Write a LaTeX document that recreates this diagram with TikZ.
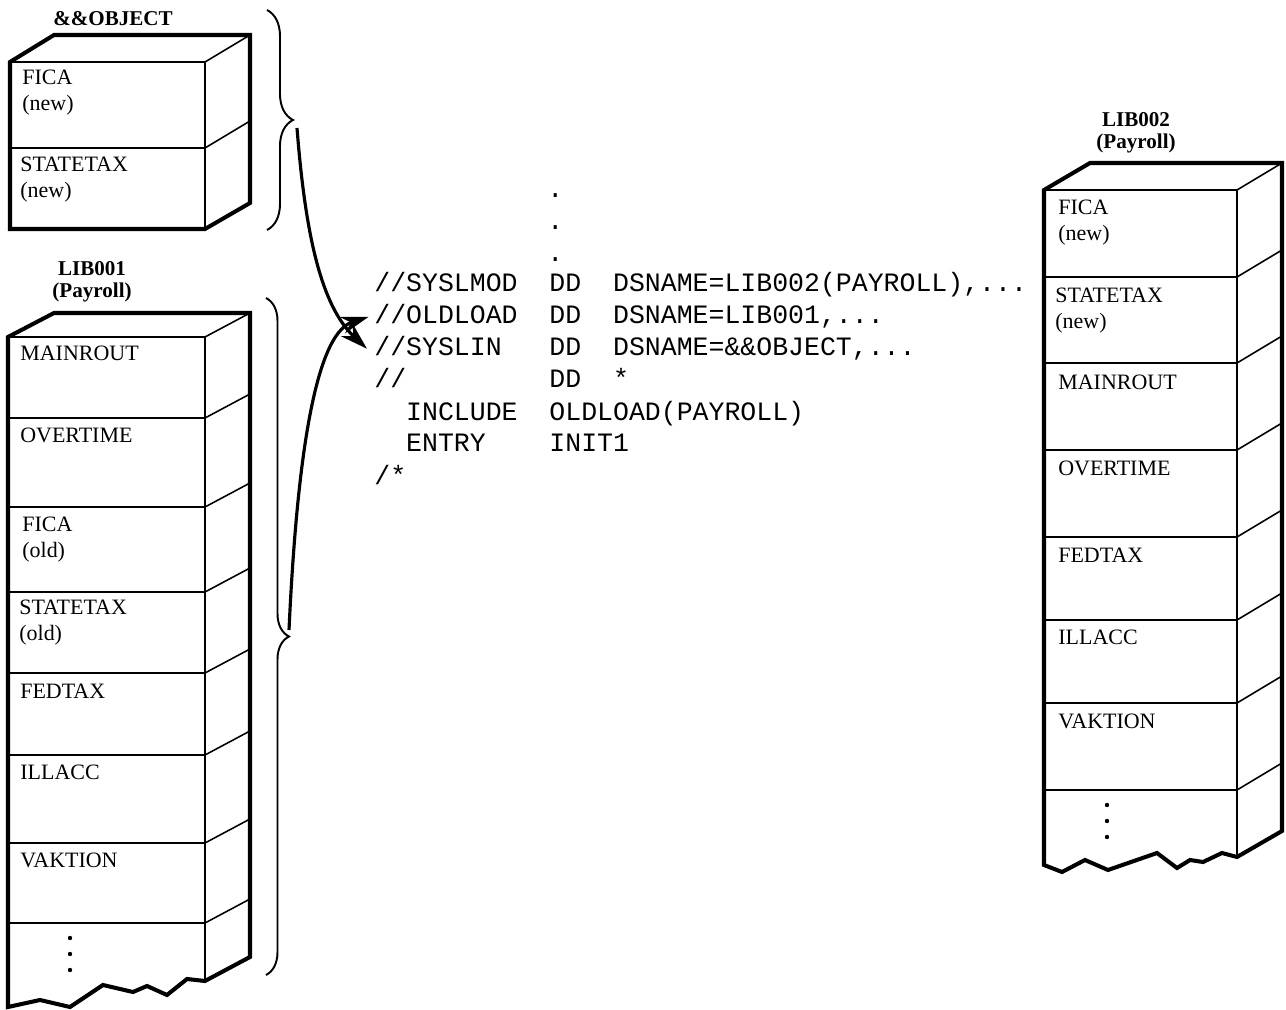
\documentclass[tikz,border=0pt]{standalone}
\usepackage{fontspec}
\setmainfont{Liberation Serif}
\setmonofont{Liberation Mono}
\usetikzlibrary{arrows.meta,decorations.pathreplacing}

\tikzset{
  silhouette/.style={line width=2.3pt, line join=miter},
  seam/.style={line width=0.9pt},
  module/.style={anchor=north west, inner sep=0pt, align=left, font=\fontsize{12.5}{14.6}\selectfont},
  libname/.style={anchor=south, inner sep=0pt, align=center, font=\bfseries\fontsize{12}{12.5}\selectfont},
  jcl/.style={anchor=base west, inner sep=0pt, font=\ttfamily\fontsize{15.1}{18}\selectfont},
  grouping/.style={decorate, line width=1.1pt},
  flow/.style={line width=1.8pt, -{Stealth[length=5.5mm,width=3.4mm]}},
}

\begin{document}
\begin{tikzpicture}[x=0.02cm, y=-0.02cm]
        \useasboundingbox (0,0) rectangle (1286,1010);

        % &&OBJECT (temporary data set)
        \node[libname, anchor=base] (objname) at (113,26) {\&\&OBJECT};
        \draw[silhouette] (10,62) -- (54,35) -- (250,35) -- (250,203) -- (205,229) -- (10,229) -- cycle;
        \draw[seam] (10,62) -- (205,62) -- (250,35) (205,62) -- (205,229);
        \draw[seam] (10,148) -- (205,148) -- (250,121);
        \node[module] (objfica) at (22,70) {FICA\\(new)};
        \node[module] (objstate) at (20,157) {STATETAX\\(new)};

        % LIB001 (old library)
        \node[libname] (oldname) at (92,302) {LIB001\\(Payroll)};
        \draw[silhouette] (8,1007) -- (8,337) -- (54,313) -- (250,313) -- (250,957) -- (205,981)
            -- (187,979) -- (167,995) -- (147,986) -- (133,992) -- (103,985) -- (70,1007) -- (40,1000) -- cycle;
        \draw[seam] (8,337) -- (205,337) -- (250,313) (205,337) -- (205,981);
        \foreach \y in {418,507,592,673,755,843,923}
            \draw[seam] (8,\y) -- (205,\y) -- (250,\y-24);
        \node[module] (oldmain) at (20,346) {MAINROUT};
        \node[module] (oldover) at (20,428) {OVERTIME};
        \node[module] (oldfica) at (22,517) {FICA\\(old)};
        \node[module] (oldstate) at (19,600) {STATETAX\\(old)};
        \node[module] (oldfed) at (20,684) {FEDTAX};
        \node[module] (oldill) at (20,765) {ILLACC};
        \node[module] (oldvak) at (20,853) {VAKTION};
        \foreach \y in {938,954,970}
            \fill (70,\y) circle (2.2);

        % LIB002 (new library)
        \node[libname] (newname) at (1136,153) {LIB002\\(Payroll)};
        \draw[silhouette] (1044,865) -- (1044,190) -- (1090,163) -- (1282,163) -- (1282,831) -- (1237,857)
            -- (1222,853) -- (1203,862) -- (1190,860) -- (1177,868) -- (1157,853) -- (1108,870)
            -- (1085,860) -- (1062,872) -- cycle;
        \draw[seam] (1044,190) -- (1237,190) -- (1282,163) (1237,190) -- (1237,857);
        \foreach \y in {277,363,450,537,620,703,790}
            \draw[seam] (1044,\y) -- (1237,\y) -- (1282,\y-27);
        \node[module] (newfica) at (1058,200) {FICA\\(new)};
        \node[module] (newstate) at (1055,288) {STATETAX\\(new)};
        \node[module] (newmain) at (1058,375) {MAINROUT};
        \node[module] (newover) at (1058,461) {OVERTIME};
        \node[module] (newfed) at (1058,548) {FEDTAX};
        \node[module] (newill) at (1058,630) {ILLACC};
        \node[module] (newvak) at (1058,714) {VAKTION};
        \foreach \y in {805,821,837}
            \fill (1107,\y) circle (2.2);

        % Braces round the two input data sets
        \draw[grouping, decoration={brace, amplitude=0.52cm}] (267,10) -- (267,230);
        \draw[grouping, decoration={brace, amplitude=0.46cm}] (266,298) -- (266,975);
        \coordinate (objtip) at (297,128);
        \coordinate (oldtip) at (289,630);

        % Linkage editor job stream
        \foreach \y [count=\i] in {198,230,262}
            \node[jcl] (dot\i) at (547,\y) {.};
        \node[jcl] (syslmod) at (374,292) {//SYSLMOD~~DD~~DSNAME=LIB002(PAYROLL),...};
        \node[jcl] (oldload) at (374,324) {//OLDLOAD~~DD~~DSNAME=LIB001,...};
        \node[jcl] (syslin) at (374,356) {//SYSLIN~~~DD~~DSNAME=\&\&OBJECT,...};
        \node[jcl] (ddstar) at (374,388) {//~~~~~~~~~DD~~*};
        \node[jcl] (include) at (374,420) {~~INCLUDE~~OLDLOAD(PAYROLL)};
        \node[jcl] (entry) at (374,452) {~~ENTRY~~~~INIT1};
        \node[jcl] (jclend) at (374,484) {/*};

        % Arrows from the braces to the DD statements
        \draw[flow] (objtip) .. controls (305,230) and (320,305) .. ([xshift=-4]syslin.west);
        \draw[flow] (oldtip) .. controls (296,480) and (312,335) .. ([xshift=-3]oldload.west);
    \end{tikzpicture}
\end{document}
